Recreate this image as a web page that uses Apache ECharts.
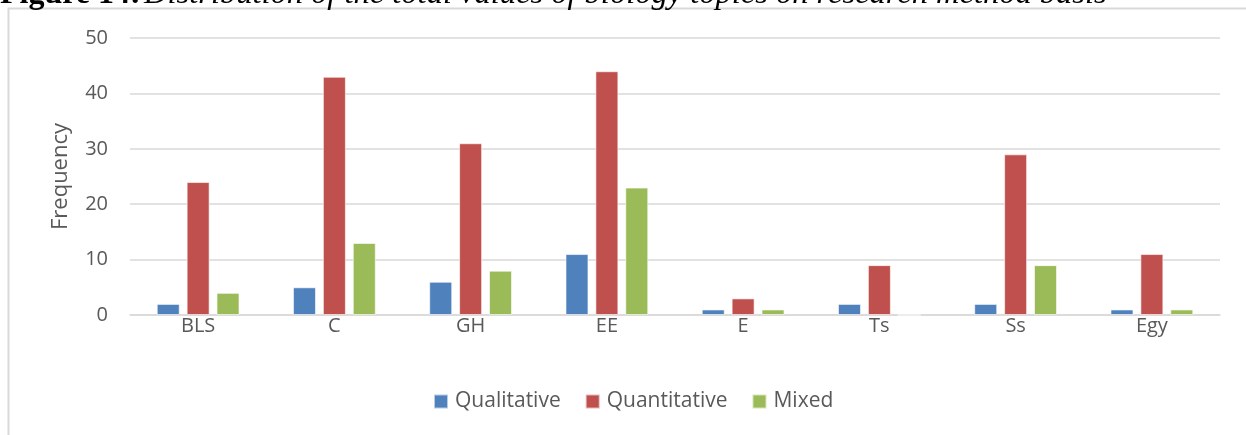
<!DOCTYPE html>
<html>
<head>
<meta charset="utf-8">
<script src="https://cdn.jsdelivr.net/npm/echarts@6/dist/echarts.min.js"></script>
<style>
  html, body { margin: 0; padding: 0; background: #fff; }
  #chart { width: 1246px; height: 435px; }
</style>
</head>
<body>
<div id="chart"></div>
<script>
// topics
var categories = ["BLS", "C", "GH", "EE", "E", "Ts", "Ss", "Egy"];
var qualitative = [2, 5, 6, 11, 1, 2, 2, 1];
var quantitative = [24, 43, 31, 44, 3, 9, 29, 11];
var mixed = [4, 13, 8, 23, 1, 0, 9, 1];
var yTicks = [0, 10, 20, 30, 40, 50];

var font = "'Open Sans', 'Noto Sans', sans-serif";
var textColor = "#595959";

var myChart = echarts.init(document.getElementById("chart"));

function barSeries(name, data) {
  return {
    name: name,
    type: "bar",
    data: data,
    barWidth: 23,
    barGap: "30%",
    itemStyle: {
      borderColor: "rgba(255,255,255,0.6)",
      borderWidth: 1
    }
  };
}

var option = {
  animation: false,
  color: ["#4F81BD", "#C0504D", "#9BBB59"],
  graphic: [
    {
      type: "rect",
      shape: { x: 8.5, y: 8.5, width: 1260, height: 440 },
      style: { fill: "none", stroke: "#D9D9D9", lineWidth: 2 },
      silent: true
    },
    {
      type: "text",
      left: 0,
      top: -22,
      style: {
        text: "{b|Figure 14:} {i|Distribution of the total values of biology topics on research method basis}",
        rich: {
          b: { fontFamily: "'Liberation Serif', serif", fontWeight: "bold", fontSize: 32, fill: "#000" },
          i: { fontFamily: "'Liberation Serif', serif", fontStyle: "italic", fontSize: 32.5, fill: "#000" }
        }
      }
    }
  ],
  legend: {
    top: 386,
    left: 428,
    itemWidth: 14,
    itemHeight: 14,
    itemGap: 24,
    icon: "rect",
    textStyle: { fontFamily: font, fontSize: 21, color: textColor, padding: [0, 0, 0, 2] }
  },
  grid: { left: 130, right: 26, top: 38, bottom: 120 },
  xAxis: {
    type: "category",
    data: categories,
    axisLine: { lineStyle: { color: "#D9D9D9", width: 1.5 } },
    axisTick: { show: false },
    axisLabel: { fontFamily: font, fontSize: 20, color: textColor, margin: 1 }
  },
  yAxis: {
    type: "value",
    min: yTicks[0],
    max: yTicks[yTicks.length - 1],
    interval: 10,
    name: "Frequency",
    nameLocation: "middle",
    nameGap: 58,
    nameTextStyle: { fontFamily: font, fontSize: 22, color: textColor },
    axisLine: { show: false },
    axisTick: { show: false },
    splitLine: { lineStyle: { color: "#D9D9D9", width: 1.5 } },
    axisLabel: { fontFamily: font, fontSize: 20, color: textColor, margin: 22 }
  },
  series: [
    barSeries("Qualitative", qualitative),
    barSeries("Quantitative", quantitative),
    barSeries("Mixed", mixed)
  ]
};

myChart.setOption(option);
</script>
</body>
</html>
